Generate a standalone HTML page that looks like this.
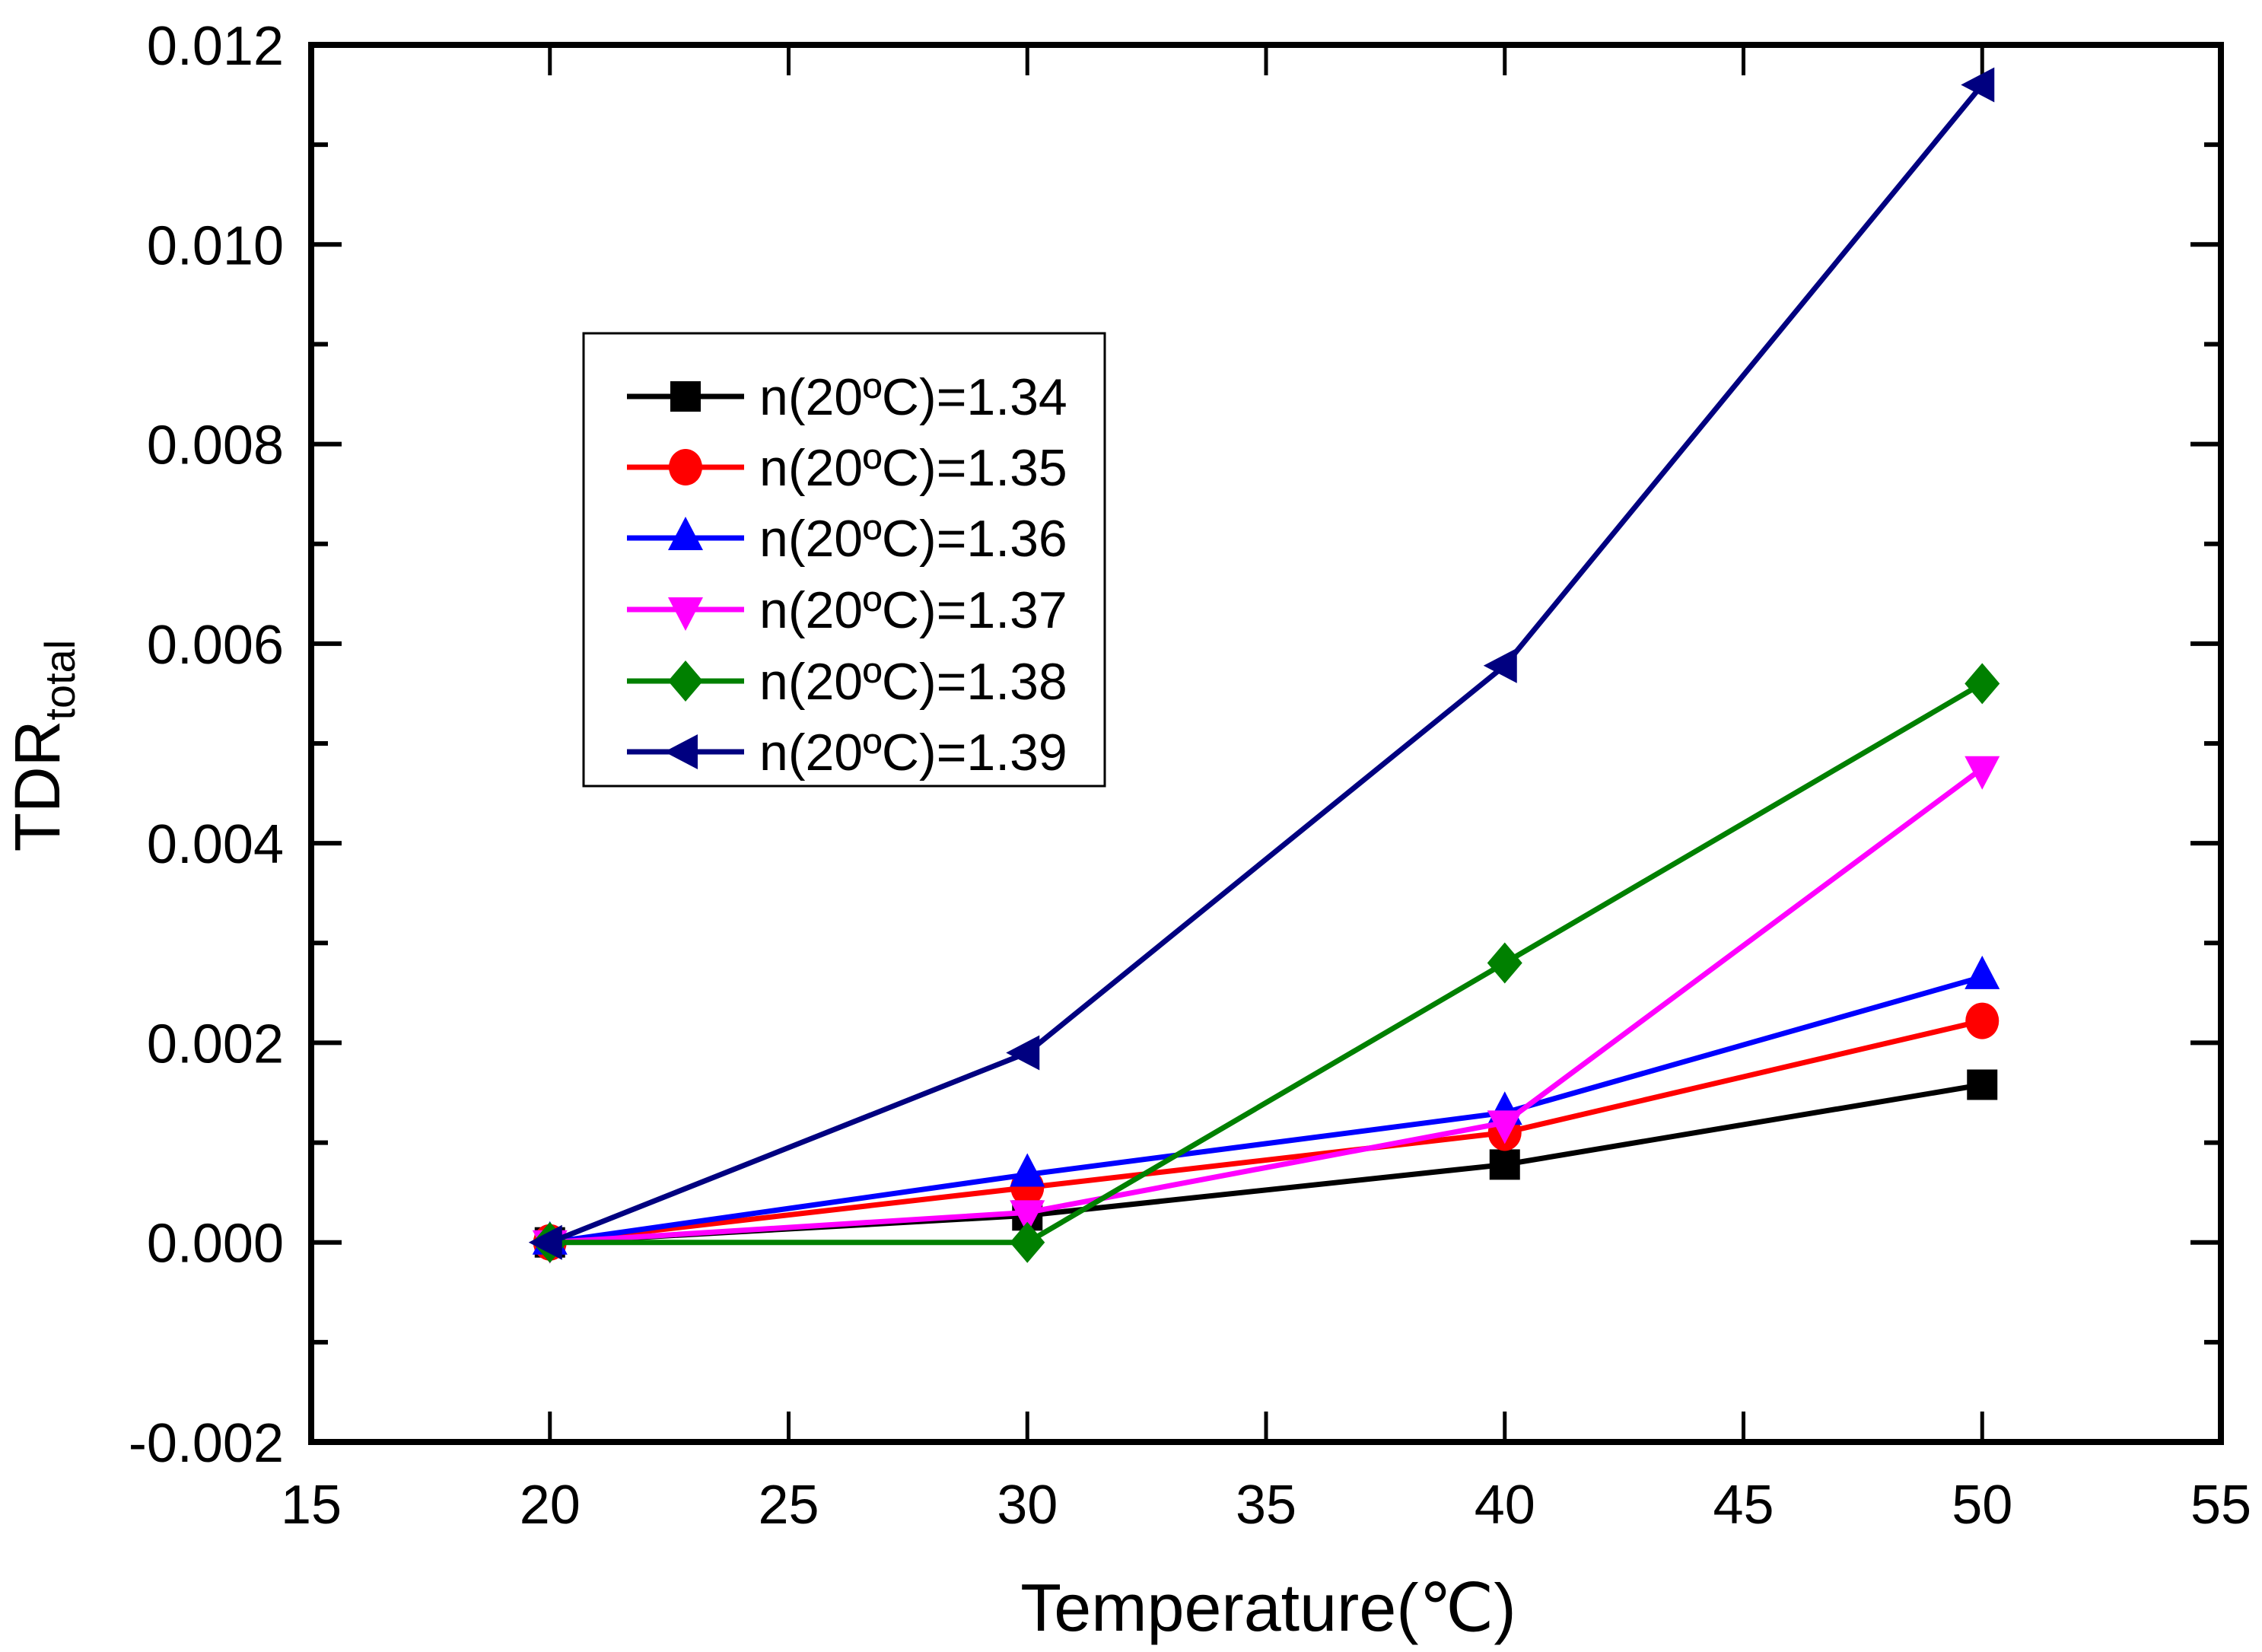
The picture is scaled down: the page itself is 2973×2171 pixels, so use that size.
<!DOCTYPE html>
<html><head><meta charset="utf-8"><style>
html,body{margin:0;padding:0;background:#fff}
svg{display:block}
text{font-family:"Liberation Sans",sans-serif;fill:#000}
</style></head><body>
<svg id="chart" width="2973" height="2171" viewBox="0 0 2973 2171" xmlns="http://www.w3.org/2000/svg">
<g id="ticks"></g>
<g id="series"></g>
<rect x="409" y="59" width="2510" height="1836" fill="none" stroke="#000" stroke-width="8"/>
<text x="1667" y="2143" font-size="88" text-anchor="middle">Temperature(℃)</text>
<text transform="translate(78,980) rotate(-90)" font-size="84" text-anchor="middle">TDR<tspan font-size="56" dy="20">total</tspan></text>
<g id="legend">
<rect x="767" y="438" width="685" height="595" fill="#fff" stroke="#000" stroke-width="3"/>
</g>
</svg>
<script>
const xCats=[20,30,40,50];
const seriesNames=["n(20ºC)=1.34","n(20ºC)=1.35","n(20ºC)=1.36","n(20ºC)=1.37","n(20ºC)=1.38","n(20ºC)=1.39"];
const s134=[0,0.00027,0.00078,0.00158];
const s135=[0,0.00055,0.0011,0.00222];
const s136=[0,0.00068,0.0013,0.00266];
const s137=[0,0.0003,0.0012,0.00475];
const s138=[0,0,0.0028,0.0056];
const s139=[0,0.0019,0.00578,0.0116];
const xTicks=[15,20,25,30,35,40,45,50,55];
const yTicks=["-0.002","0.000","0.002","0.004","0.006","0.008","0.010","0.012"];

const NS="http://www.w3.org/2000/svg";
const L=409,R=2919,T=59,B=1895;
const X=v=>L+(v-15)/40*(R-L);
const Y=v=>B-(v+0.002)/0.014*(B-T);
function mk(tag,attrs,parent){const e=document.createElementNS(NS,tag);for(const k in attrs)e.setAttribute(k,attrs[k]);parent.appendChild(e);return e;}
const tg=document.getElementById('ticks');
xTicks.forEach(v=>{
  const x=X(v);
  let t=mk('line',{x1:x,x2:x,y1:B,y2:B-40,stroke:'#000','stroke-width':5},tg);
  
  
  t=mk('line',{x1:x,x2:x,y1:T,y2:T+40,stroke:'#000','stroke-width':5},tg);
  
  
  const lb=mk('text',{x:x,y:2002,'font-size':72,'text-anchor':'middle'},tg);lb.textContent=v;
  
  
});
yTicks.forEach(s=>{
  const v=parseFloat(s),y=Y(v);
  let t=mk('line',{x1:L,x2:L+40,y1:y,y2:y,stroke:'#000','stroke-width':6},tg);
  
  
  t=mk('line',{x1:R,x2:R-40,y1:y,y2:y,stroke:'#000','stroke-width':6},tg);
  
  
  if(v<0.012){const ym=Y(v+0.001);
    t=mk('line',{x1:L,x2:L+22,y1:ym,y2:ym,stroke:'#000','stroke-width':6},tg);
    
    
    t=mk('line',{x1:R,x2:R-22,y1:ym,y2:ym,stroke:'#000','stroke-width':6},tg);
    
    }
  const lb=mk('text',{x:373,y:y+26,'font-size':72,'text-anchor':'end'},tg);lb.textContent=s;
  
  
});
const colors=["#000000","#ff0000","#0000ff","#ff00ff","#008000","#000080"];
const shapes=["square","circle","up","down","diamond","left"];
const data=[s134,s135,s136,s137,s138,s139];
function marker(shape,x,y,c,p){
  let e;
  if(shape==="square")e=mk('rect',{x:x-20,y:y-20,width:40,height:40,fill:c},p);
  else if(shape==="circle")e=mk('ellipse',{cx:x,cy:y,rx:22,ry:24,fill:c},p);
  else{let pts;
    if(shape==="up")pts=[[x,y-28],[x+23,y+16],[x-23,y+16]];
    if(shape==="down")pts=[[x,y+28],[x+23,y-16],[x-23,y-16]];
    if(shape==="diamond")pts=[[x,y-27],[x+23,y],[x,y+27],[x-23,y]];
    if(shape==="left")pts=[[x-28,y],[x+16,y-23],[x+16,y+23]];
    e=mk('polygon',{points:pts.map(q=>q.join(',')).join(' '),fill:c},p);}
  return e;
}
const sg=document.getElementById('series');
data.forEach((vals,i)=>{
  const g=mk('g',{},sg);
  
  
  const pl=mk('polyline',{points:vals.map((v,j)=>X(xCats[j])+','+Y(v)).join(' '),fill:'none',stroke:colors[i],'stroke-width':7},g);
  
  
  vals.forEach((v,j)=>{const m=marker(shapes[i],X(xCats[j]),Y(v),colors[i],g);
    
    });
});
const lg=document.getElementById('legend');
const ly=[521,614,707,801,895,988];
seriesNames.forEach((n,i)=>{
  const g=mk('g',{},lg);
  
  
  mk('line',{x1:824,x2:978,y1:ly[i],y2:ly[i],stroke:colors[i],'stroke-width':7},g);
  marker(shapes[i],901,ly[i],colors[i],g);
  const t=mk('text',{x:998,y:ly[i]+24,'font-size':68},g);
  t.textContent=n;
});
</script>
</body></html>
